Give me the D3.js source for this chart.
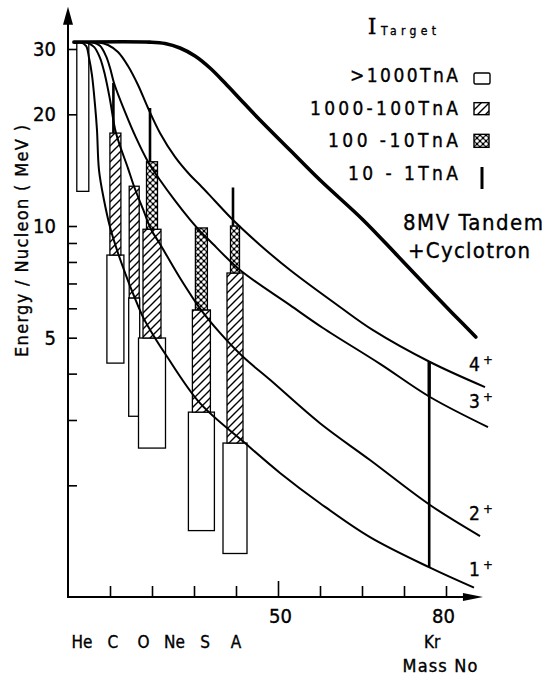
<!DOCTYPE html>
<html>
<head>
<meta charset="utf-8">
<script src="https://cdn.jsdelivr.net/npm/d3@7"></script>
<style>
  html, body { margin: 0; padding: 0; background: #fff; }
  svg { display: block; }
  text { fill: #000; stroke: #000; stroke-width: 0.35px; font-family: "Liberation Sans Narrow", "DejaVu Sans Condensed", "Liberation Sans", sans-serif; }
</style>
</head>
<body>
<svg id="chart" width="548" height="677"></svg>
<script>
// ion beams and their mass numbers
var elements = ["He", "C", "O", "Ne", "S", "A"];
var massNo = [4, 12, 16, 20, 32, 40];
var krMass = 86;

// energy limits (MeV/u) of each target current range, null = not available
var eLow      = [12.4, 4.27, 3.07, 2.52, 1.51, 1.31];
var eOver1000 = [31.3, 8.35, 6.4, 4.99, 3.15, 2.6];
var e1000_100 = [null, 17.8, 12.8, 9.8, 5.94, 7.47];
var e100_10   = [null, null, null, 14.9, 9.88, 10];
var e10_1     = [null, 24.3, null, 20.8, null, 12.7];

// [mass no, MeV/u]
var tandemCyclotron = [[1.4, 31.3], [19.5, 31.3], [23.1, 31.04], [26.67, 30.18], [30.24, 28.72], [33.81, 26.66],
    [37.38, 24.29], [40.95, 22.0], [45, 19.67], [52.9, 16], [60, 13.3], [70.2, 10.4], [78.3, 8.35],
    [86.2, 6.72], [92, 5.75], [97.1, 5.02]];
var q1 = [[2.86, 31.3], [4.29, 30.6], [5.0, 28.4], [5.71, 25.5], [6.43, 21.2], [6.9, 18.15], [7.38, 14.15],
    [8.57, 11.75], [10.0, 9.94], [11.9, 8.46], [14.05, 7.24], [15.71, 6.48], [17.86, 5.68], [20.71, 4.99],
    [23.33, 4.49], [31.43, 3.33], [42.14, 2.6], [50.48, 2.16], [60, 1.79], [71.9, 1.45], [86.19, 1.2], [96.67, 1.06]];
var q2 = [[4.29, 31.3], [6.19, 30.4], [7.62, 28.4], [8.81, 25.5], [10.0, 21.9], [11.43, 17.8], [14.29, 14.3],
    [15.71, 12.8], [17.86, 11.1], [19.76, 9.8], [21.9, 8.94], [26.67, 7.24], [31.67, 5.94], [36.19, 5.15],
    [41.67, 4.44], [48.1, 3.85], [60, 2.94], [71.9, 2.34], [86.19, 1.77], [98.1, 1.46]];
var q3 = [[5.71, 31.3], [7.62, 30.6], [9.05, 28.7], [10.0, 26.7], [10.95, 24.3], [13.57, 20.3], [16.19, 17.3],
    [19.05, 14.9], [21.9, 13.3], [25.48, 11.7], [29.05, 10.4], [31.43, 9.69], [33.81, 9.11], [40.95, 7.61],
    [52.86, 6.12], [60.71, 5.31], [74.29, 4.25], [86.19, 3.46], [100, 2.87]];
var q4 = [[7.14, 31.3], [9.52, 30.75], [11.9, 29.44], [14.29, 26.99], [16.67, 23.99], [19.05, 20.8],
    [21.9, 17.81], [25.48, 15.35], [29.05, 13.72], [31.43, 12.9], [35, 11.68], [39.29, 10.38], [45.71, 8.89],
    [52.86, 7.61], [64.76, 6.05], [72.62, 5.24], [86.19, 4.3], [99.29, 3.68]];
var chargeCurves = [q4, q3, q2, q1];
var chargeLabels = ["4", "3", "2", "1"];

var yTicks = [2, 3, 4, 5, 6, 7, 8, 9, 10, 20, 30];
var yLabels = [5, 10, 20, 30];
var xTicks = [10, 20, 30, 40, 50, 60, 70, 80, 90];
var xLabels = [50, 80];
var legendLabels = [">1000TnA", "1000-100TnA", "100 -10TnA", "10 - 1TnA"];

var svg = d3.select("#chart");
var x = d3.scaleLinear().domain([0, 90]).range([68, 446]);
var y = d3.scaleLog().domain([1, 10]).range([597, 226]);
var xEnd = 98.8, yTop = 39;

// widths of the bar pieces per element (px) and small offsets
var wWhite = [12, 17, 11, 27, 26, 24],
    wHatch = [0, 11, 10, 18, 18, 16],
    wCross = [0, 0, 0, 11, 12, 9],
    nudge = [-2, -3, -1, 0, -1, -1];

var defs = svg.append("defs");
var hatch = defs.append("pattern").attr("id", "hatch")
    .attr("patternUnits", "userSpaceOnUse").attr("width", 8).attr("height", 8);
hatch.append("rect").attr("width", 8).attr("height", 8).attr("fill", "#fff");
hatch.append("path").attr("d", "M0,8 L8,0 M-1,1 L1,-1 M7,9 L9,7")
    .attr("stroke", "#000").attr("stroke-width", 1.4);
var cross = defs.append("pattern").attr("id", "cross")
    .attr("patternUnits", "userSpaceOnUse").attr("width", 6).attr("height", 6);
cross.append("rect").attr("width", 6).attr("height", 6).attr("fill", "#000");
[[0, 0], [6, 0], [0, 6], [6, 6], [3, 3]].forEach(function(c) {
    cross.append("circle").attr("cx", c[0]).attr("cy", c[1]).attr("r", 1.8).attr("fill", "#fff");
});

var valueAt = function(curve, m) {
    for (var k = 0; k < curve.length - 1; k++) {
        var a = curve[k], b = curve[k + 1];
        if (m >= a[0] && m <= b[0]) {
            var t = (m - a[0]) / (b[0] - a[0]);
            return Math.pow(10, Math.log10(a[1]) + t * (Math.log10(b[1]) - Math.log10(a[1])));
        }
    }
    return curve[curve.length - 1][1];
};

// bars
var bars = svg.append("g");
elements.forEach(function(el, i) {
    var cx = x(massNo[i]) + nudge[i];
    var piece = function(lo, hi, w, fill) {
        bars.append("rect")
            .attr("x", cx - w / 2).attr("width", w)
            .attr("y", y(hi)).attr("height", y(lo) - y(hi))
            .attr("fill", fill).attr("stroke", "#000").attr("stroke-width", 1.3);
    };
    piece(eLow[i], eOver1000[i], wWhite[i], "#fff");
    if (e1000_100[i]) piece(eOver1000[i], e1000_100[i], wHatch[i], "url(#hatch)");
    if (e100_10[i]) piece(e1000_100[i], e100_10[i], wCross[i], "url(#cross)");
    if (e10_1[i]) {
        var from = e100_10[i] || e1000_100[i] || eOver1000[i];
        bars.append("line")
            .attr("x1", cx - 2).attr("x2", cx - 2)
            .attr("y1", y(from)).attr("y2", y(e10_1[i]))
            .attr("stroke", "#000").attr("stroke-width", 2.6);
    }
});

// curves
var line = d3.line()
    .x(function(d) { return x(d[0]); })
    .y(function(d) { return y(d[1]); })
    .curve(d3.curveCatmullRom.alpha(0.5));

svg.append("g").selectAll("path").data(chargeCurves).enter().append("path")
    .attr("d", line).attr("fill", "none").attr("stroke", "#000").attr("stroke-width", 2);
svg.append("path").datum(tandemCyclotron)
    .attr("d", line).attr("fill", "none").attr("stroke", "#000")
    .attr("stroke-width", 3.6).attr("stroke-linecap", "round");

// Kr line
svg.append("line")
    .attr("x1", x(krMass)).attr("x2", x(krMass))
    .attr("y1", y(valueAt(q4, krMass))).attr("y2", y(valueAt(q3, krMass)))
    .attr("stroke", "#000").attr("stroke-width", 3.4);
svg.append("line")
    .attr("x1", x(krMass)).attr("x2", x(krMass))
    .attr("y1", y(valueAt(q3, krMass))).attr("y2", y(valueAt(q1, krMass)))
    .attr("stroke", "#000").attr("stroke-width", 2.6);

// charge state labels
chargeCurves.forEach(function(c, i) {
    var t = svg.append("text")
        .attr("x", x(95.5)).attr("y", y(valueAt(c, 95.5)) - 9)
        .attr("font-size", 19);
    t.append("tspan").text(chargeLabels[i]);
    t.append("tspan").attr("font-size", 13).attr("dx", 3).attr("dy", -7).text("+");
});

// axes
svg.append("line").attr("x1", x(0)).attr("x2", x(0)).attr("y1", y(1)).attr("y2", y(yTop) + 10)
    .attr("stroke", "#000").attr("stroke-width", 2);
svg.append("path")
    .attr("d", "M" + x(0) + "," + y(yTop) + " l-5,18 l10,0 z").attr("fill", "#000");
svg.append("line").attr("x1", x(0) - 1).attr("x2", x(xEnd) - 10).attr("y1", y(1)).attr("y2", y(1))
    .attr("stroke", "#000").attr("stroke-width", 2);
svg.append("path")
    .attr("d", "M" + x(xEnd) + "," + y(1) + " l-20,-4 l0,8 z").attr("fill", "#000");

var yTickAxis = svg.append("g").attr("transform", "translate(" + x(0) + ",0)")
    .call(d3.axisRight(y).tickValues(yTicks).tickSize(9).tickFormat(""));
yTickAxis.select(".domain").remove();
yTickAxis.selectAll("line").attr("stroke-width", 1.6);

var yLabelAxis = svg.append("g").attr("transform", "translate(" + x(0) + ",0)")
    .call(d3.axisLeft(y).tickValues(yLabels).tickSize(0).tickPadding(12).tickFormat(d3.format("d")));
yLabelAxis.select(".domain").remove();
yLabelAxis.selectAll("text").attr("font-size", 20).attr("font-family", null);

var xTickAxis = svg.append("g").attr("transform", "translate(0," + y(1) + ")")
    .call(d3.axisTop(x).tickValues(xTicks).tickSize(11).tickFormat(""));
xTickAxis.select(".domain").remove();
xTickAxis.selectAll("line").attr("stroke-width", 1.6)
    .filter(function(d) { return d === 50; }).attr("y2", -16);

// the "80" stands right of its tick in the original drawing
var labelShift = {50: 2, 80: 39};
var xLabelAxis = svg.append("g").attr("transform", "translate(0," + y(1) + ")")
    .call(d3.axisBottom(x).tickValues(xLabels).tickSize(0).tickPadding(12).tickFormat(d3.format("d")));
xLabelAxis.select(".domain").remove();
xLabelAxis.selectAll("text").attr("font-size", 20).attr("font-family", null)
    .attr("dx", function(d) { return labelShift[d]; });

// element names
var elPos = d3.scalePoint().domain(elements).range([82, 236]);
svg.append("g").selectAll("text").data(elements).enter().append("text")
    .attr("x", function(d) { return elPos(d); }).attr("y", 648)
    .attr("text-anchor", "middle").attr("font-size", 17)
    .text(function(d) { return d; });
svg.append("text").attr("x", x(krMass) + 3).attr("y", 648)
    .attr("text-anchor", "middle").attr("font-size", 17).text("Kr");
svg.append("text").attr("x", 440).attr("y", 672)
    .attr("text-anchor", "middle").attr("font-size", 18)
    .attr("textLength", 75).attr("lengthAdjust", "spacing").text("Mass No");

svg.append("text").attr("transform", "translate(28,241) rotate(-90)")
    .attr("text-anchor", "middle").attr("font-size", 18)
    .attr("textLength", 232).attr("lengthAdjust", "spacing")
    .text("Energy / Nucleon ( MeV )");

// legend
svg.append("text").attr("x", 372).attr("y", 34).attr("text-anchor", "middle")
    .attr("font-size", 22).style("font-family", "'DejaVu Serif', serif").text("I");
svg.append("text").attr("x", 381).attr("y", 35).attr("font-size", 12)
    .attr("textLength", 55).attr("lengthAdjust", "spacing").text("Target");

var legendWidths = [108, 148, 130, 110];
var rowY = d3.scalePoint().domain(legendLabels).range([82, 180]);
svg.append("g").selectAll("text").data(legendLabels).enter().append("text")
    .attr("x", 458).attr("y", function(d) { return rowY(d); })
    .attr("text-anchor", "end").attr("font-size", 19)
    .attr("textLength", function(d, i) { return legendWidths[i]; })
    .attr("lengthAdjust", "spacing")
    .text(function(d) { return d; });

var lg = svg.append("g").attr("stroke", "#000").attr("stroke-width", 1.4);
lg.append("rect").attr("x", 474).attr("y", rowY(legendLabels[0]) - 9).attr("width", 16).attr("height", 11)
    .attr("rx", 1.5).attr("fill", "#fff");
lg.append("rect").attr("x", 474).attr("y", rowY(legendLabels[1]) - 12).attr("width", 15).attr("height", 12)
    .attr("fill", "url(#hatch)");
lg.append("rect").attr("x", 474).attr("y", rowY(legendLabels[2]) - 13).attr("width", 15).attr("height", 13)
    .attr("fill", "url(#cross)");
lg.append("line").attr("x1", 482).attr("x2", 482)
    .attr("y1", rowY(legendLabels[3]) - 13).attr("y2", rowY(legendLabels[3]) + 9)
    .attr("stroke-width", 3);

svg.append("text").attr("x", 403).attr("y", 230).attr("font-size", 22)
    .attr("textLength", 140).attr("lengthAdjust", "spacing").text("8MV Tandem");
svg.append("text").attr("x", 408).attr("y", 258).attr("font-size", 22)
    .attr("textLength", 122).attr("lengthAdjust", "spacing").text("+Cyclotron");
</script>
</body>
</html>
